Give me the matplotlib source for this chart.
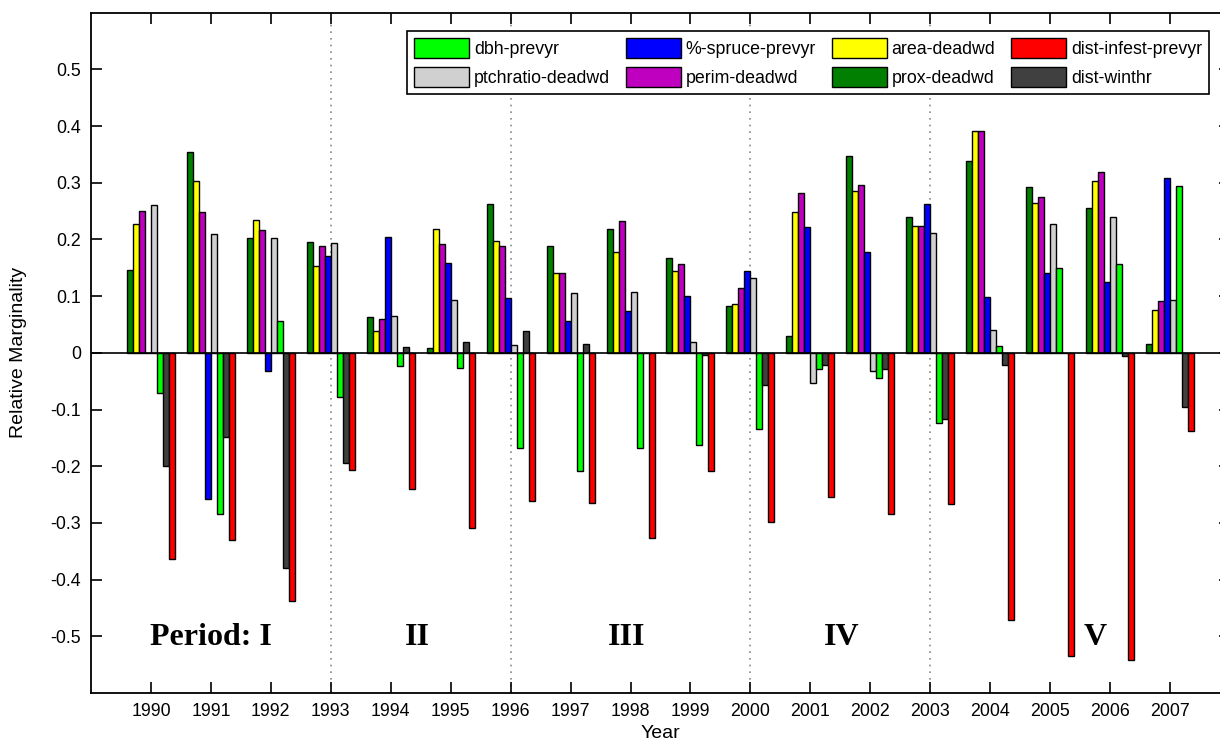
import numpy as np
import matplotlib
matplotlib.use("Agg")
import matplotlib.pyplot as plt

plt.rcParams['font.family'] = ['Liberation Sans', 'DejaVu Sans']

years = list(range(1990, 2008))

# series in the order the bars sit inside each year group
prox_deadwd = [0.147, 0.354, 0.202, 0.195, 0.064, 0.009, 0.262, 0.188, 0.219, 0.168,
               0.082, 0.029, 0.347, 0.239, 0.338, 0.292, 0.256, 0.016]
area_deadwd = [0.227, 0.304, 0.234, 0.154, 0.039, 0.219, 0.197, 0.141, 0.178, 0.144,
               0.086, 0.248, 0.285, 0.224, 0.391, 0.265, 0.304, 0.075]
perim_deadwd = [0.251, 0.248, 0.216, 0.188, 0.059, 0.192, 0.189, 0.141, 0.233, 0.156,
                0.115, 0.282, 0.296, 0.224, 0.391, 0.275, 0.319, 0.092]
spruce_prevyr = [0.0, -0.257, -0.032, 0.171, 0.204, 0.158, 0.096, 0.057, 0.074, 0.101,
                 0.144, 0.222, 0.178, 0.263, 0.099, 0.140, 0.125, 0.309]
ptchratio_deadwd = [0.260, 0.209, 0.202, 0.193, 0.065, 0.093, 0.014, 0.105, 0.108, 0.019,
                    0.132, -0.053, -0.032, 0.212, 0.041, 0.227, 0.239, 0.094]
dbh_prevyr = [-0.071, -0.285, 0.056, -0.078, -0.023, -0.027, -0.168, -0.209, -0.168, -0.162,
              -0.134, -0.029, -0.044, -0.124, 0.012, 0.149, 0.157, 0.294]
dist_winthr = [-0.199, -0.148, -0.379, -0.194, 0.011, 0.019, 0.038, 0.016, 0.0, -0.003,
               -0.056, -0.022, -0.029, -0.116, -0.022, 0.0, -0.005, -0.095]
dist_infest_prevyr = [-0.363, -0.331, -0.438, -0.206, -0.240, -0.309, -0.261, -0.264, -0.326, -0.209,
                      -0.298, -0.254, -0.285, -0.266, -0.472, -0.535, -0.542, -0.138]

series = [
    ("prox-deadwd", prox_deadwd, "#007f00"),
    ("area-deadwd", area_deadwd, "#ffff00"),
    ("perim-deadwd", perim_deadwd, "#bf00bf"),
    ("%-spruce-prevyr", spruce_prevyr, "#0000ff"),
    ("ptchratio-deadwd", ptchratio_deadwd, "#d0d0d0"),
    ("dbh-prevyr", dbh_prevyr, "#00ff00"),
    ("dist-winthr", dist_winthr, "#404040"),
    ("dist-infest-prevyr", dist_infest_prevyr, "#ff0000"),
]

period_breaks = [1993, 1996, 2000, 2003]
period_labels = ["Period: I", "II", "III", "IV", "V"]
period_x = [1991.0, 1994.45, 1997.93, 2001.53, 2005.75]

fig = plt.figure(figsize=(12.2, 7.42), dpi=100)
ax = fig.add_axes([91 / 1220, 49 / 742, 1139 / 1220, 680.3 / 742])

x = np.array(years, dtype=float)
w = 0.1
handles = {}
for i, (name, vals, col) in enumerate(series):
    b = ax.bar(x + (i - 3.5) * w, vals, width=w, color=col, edgecolor="black",
               linewidth=1.0, label=name, zorder=3)
    handles[name] = b

ax.axhline(0, color="black", lw=1.2, zorder=4)
for yb in period_breaks:
    ax.axvline(yb, color="#888888", ls=(0, (1, 3)), lw=1.2, zorder=1)

for lab, px in zip(period_labels, period_x):
    ax.text(px, -0.502, lab, ha="center", va="center", fontsize=23,
            fontweight="bold", family=["Liberation Serif", "DejaVu Serif"])

ax.set_xlim(1989, 2008)
ax.set_ylim(-0.6, 0.6)
ax.set_xticks(years)
ax.set_yticks([-0.5, -0.4, -0.3, -0.2, -0.1, 0, 0.1, 0.2, 0.3, 0.4, 0.5])
ax.set_yticklabels(["-0.5", "-0.4", "-0.3", "-0.2", "-0.1", "0", "0.1", "0.2", "0.3", "0.4", "0.5"])
ax.tick_params(direction="in", length=8, width=1.2, top=True, right=True,
               labelsize=12.8, pad=7)
for sp in ax.spines.values():
    sp.set_linewidth(1.3)
ax.set_xlabel("Year", fontsize=14, labelpad=4)
ax.set_ylabel("Relative Marginality", fontsize=14, labelpad=17)

# legend is filled column-wise, so pair the entries per column
leg_order = ["dbh-prevyr", "ptchratio-deadwd", "%-spruce-prevyr", "perim-deadwd",
             "area-deadwd", "prox-deadwd", "dist-infest-prevyr", "dist-winthr"]
leg = ax.legend([handles[n] for n in leg_order], leg_order, ncol=4, loc="upper right",
                bbox_to_anchor=(0.9816, 0.973), borderaxespad=0, fontsize=12.8,
                handlelength=3.1, handleheight=1.35, handletextpad=0.25,
                columnspacing=0.9, labelspacing=0.5, borderpad=0.4,
                fancybox=False, edgecolor="black", framealpha=1)
leg.get_frame().set_linewidth(1.2)

fig.savefig("out.png", dpi=100)
